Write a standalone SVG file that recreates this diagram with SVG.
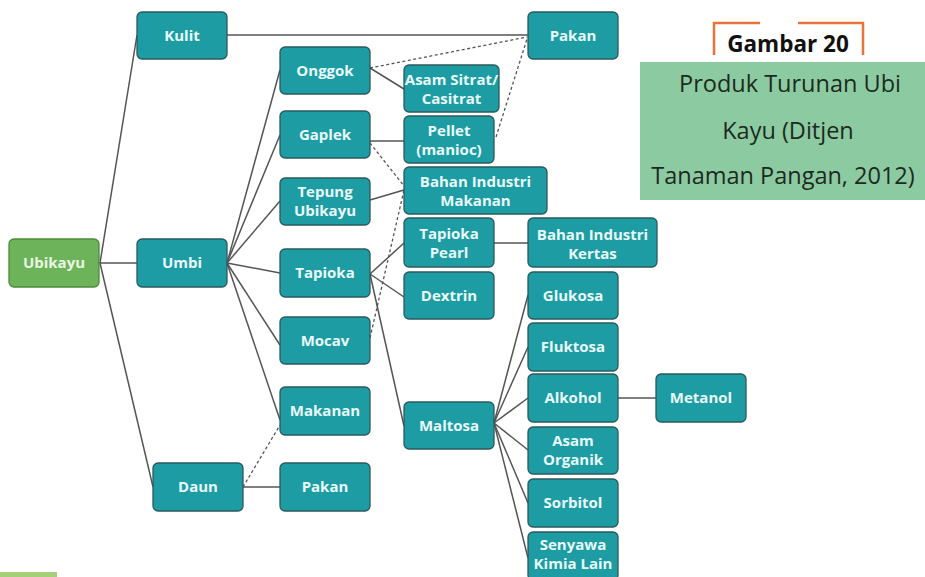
<svg xmlns="http://www.w3.org/2000/svg" width="925" height="577" viewBox="0 0 925 577">
<style>
.n rect{fill:#1d9ca3;stroke:#2a5a5e;stroke-width:1.3}
.n text{fill:#e8fafa;font-family:"Open Sans","Noto Sans",sans-serif;font-weight:700;font-size:15px;text-anchor:middle}
.g rect{fill:#6db35a;stroke:#4c8a3c}
.g text{fill:#eaf6e2}
.c line{stroke:#555;stroke-width:1.5;fill:none}
.c line.d{stroke-dasharray:3 2.5;stroke-width:1.3}
.t{font-family:"Open Sans","Noto Sans",sans-serif;text-anchor:middle}
</style>
<rect width="925" height="577" fill="#ffffff"/>
<g id="connectors" class="c">
<line x1="100" y1="263" x2="137" y2="35"/>
<line x1="99" y1="263" x2="137" y2="263"/>
<line x1="100" y1="263" x2="153" y2="487"/>
<line x1="227" y1="35" x2="528" y2="35"/>
<line x1="227" y1="263" x2="280" y2="70"/>
<line x1="227" y1="263" x2="280" y2="135"/>
<line x1="227" y1="263" x2="280" y2="201"/>
<line x1="227" y1="263" x2="280" y2="273"/>
<line x1="227" y1="263" x2="280" y2="345"/>
<line x1="227" y1="263" x2="280" y2="420"/>
<line x1="370" y1="68" x2="404" y2="89"/>
<line class="d" x1="370" y1="68" x2="527" y2="37"/>
<line class="d" x1="496" y1="137" x2="527" y2="39"/>
<line x1="370" y1="141" x2="404" y2="141"/>
<line class="d" x1="370" y1="143" x2="404" y2="186"/>
<line x1="370" y1="200" x2="404" y2="190"/>
<line class="d" x1="370" y1="338" x2="404" y2="190"/>
<line x1="370" y1="274" x2="404" y2="243"/>
<line x1="370" y1="274" x2="404" y2="297"/>
<line x1="370" y1="274" x2="404" y2="426"/>
<line x1="494" y1="243" x2="528" y2="243"/>
<line x1="494" y1="423" x2="528" y2="295"/>
<line x1="494" y1="423" x2="528" y2="347"/>
<line x1="494" y1="423" x2="528" y2="398"/>
<line x1="494" y1="423" x2="528" y2="450"/>
<line x1="494" y1="423" x2="528" y2="503"/>
<line x1="494" y1="423" x2="528" y2="558"/>
<line x1="618" y1="398" x2="656" y2="398"/>
<line x1="243" y1="487" x2="280" y2="487"/>
<line class="d" x1="243" y1="487" x2="280" y2="425"/>
</g>
<g id="ubikayu" class="n g"><rect x="9" y="239" width="90" height="48" rx="5"/><text x="54" y="268">Ubikayu</text></g>
<g id="kulit" class="n"><rect x="137" y="12" width="90" height="47" rx="5"/><text x="182" y="41">Kulit</text></g>
<g id="umbi" class="n"><rect x="137" y="239" width="90" height="48" rx="5"/><text x="182" y="268">Umbi</text></g>
<g id="daun" class="n"><rect x="153" y="463" width="90" height="48" rx="5"/><text x="198" y="492">Daun</text></g>
<g id="onggok" class="n"><rect x="280" y="47" width="90" height="47" rx="5"/><text x="325" y="76">Onggok</text></g>
<g id="gaplek" class="n"><rect x="280" y="111" width="90" height="47" rx="5"/><text x="325" y="140">Gaplek</text></g>
<g id="tepung" class="n"><rect x="280" y="178" width="90" height="47" rx="5"/><text x="325" y="197">Tepung</text><text x="325" y="216">Ubikayu</text></g>
<g id="tapioka" class="n"><rect x="280" y="249" width="90" height="48" rx="5"/><text x="325" y="278">Tapioka</text></g>
<g id="mocav" class="n"><rect x="280" y="317" width="90" height="47" rx="5"/><text x="325" y="346">Mocav</text></g>
<g id="makanan" class="n"><rect x="280" y="387" width="90" height="48" rx="5"/><text x="325" y="416">Makanan</text></g>
<g id="pakan2" class="n"><rect x="280" y="463" width="90" height="48" rx="5"/><text x="325" y="492">Pakan</text></g>
<g id="pakan1" class="n"><rect x="528" y="12" width="90" height="47" rx="5"/><text x="573" y="41">Pakan</text></g>
<g id="asamsitrat" class="n"><rect x="404" y="65" width="95" height="47" rx="5"/><text x="451.5" y="84.5">Asam Sitrat/</text><text x="451.5" y="104">Casitrat</text></g>
<g id="pellet" class="n"><rect x="404" y="116" width="90" height="47" rx="5"/><text x="449" y="136">Pellet</text><text x="449" y="155">(manioc)</text></g>
<g id="bim" class="n"><rect x="404" y="167" width="143" height="47" rx="5"/><text x="475.5" y="186.5">Bahan Industri</text><text x="475.5" y="205.5">Makanan</text></g>
<g id="tapiokapearl" class="n"><rect x="404" y="218" width="90" height="49" rx="5"/><text x="449" y="239">Tapioka</text><text x="449" y="258">Pearl</text></g>
<g id="bik" class="n"><rect x="528" y="218" width="129" height="49" rx="5"/><text x="592.5" y="239.5">Bahan Industri</text><text x="592.5" y="258.5">Kertas</text></g>
<g id="dextrin" class="n"><rect x="404" y="272" width="90" height="47" rx="5"/><text x="449" y="301">Dextrin</text></g>
<g id="maltosa" class="n"><rect x="404" y="402" width="90" height="47" rx="5"/><text x="449" y="431">Maltosa</text></g>
<g id="glukosa" class="n"><rect x="528" y="272" width="90" height="47" rx="5"/><text x="573" y="301">Glukosa</text></g>
<g id="fluktosa" class="n"><rect x="528" y="323" width="90" height="48" rx="5"/><text x="573" y="352">Fluktosa</text></g>
<g id="alkohol" class="n"><rect x="528" y="374" width="90" height="48" rx="5"/><text x="573" y="403">Alkohol</text></g>
<g id="metanol" class="n"><rect x="656" y="374" width="90" height="48" rx="5"/><text x="701" y="403">Metanol</text></g>
<g id="asamorganik" class="n"><rect x="528" y="427" width="90" height="47" rx="5"/><text x="573" y="446">Asam</text><text x="573" y="465">Organik</text></g>
<g id="sorbitol" class="n"><rect x="528" y="479" width="90" height="48" rx="5"/><text x="573" y="508">Sorbitol</text></g>
<g id="senyawa" class="n"><rect x="528" y="532" width="90" height="48" rx="5"/><text x="573" y="550">Senyawa</text><text x="573" y="569">Kimia Lain</text></g>
<g id="title">
<path d="M714 55 V23 H760 M798 23 H863 V55" fill="none" stroke="#e8743b" stroke-width="2.5"/>
<text class="t" x="788" y="52" font-size="22.5" font-weight="700" fill="#111">Gambar 20</text>
<rect x="640" y="62" width="285" height="138" fill="#8ccaa2"/>
<text class="t" x="790" y="92" font-size="23.5" fill="#1c2a1e">Produk Turunan Ubi</text>
<text class="t" x="788" y="139" font-size="23.5" fill="#1c2a1e">Kayu (Ditjen</text>
<text class="t" x="783" y="184" font-size="23.5" fill="#1c2a1e">Tanaman Pangan, 2012)</text>
</g>
<rect x="0" y="572" width="57" height="5" fill="#a6cf7a"/>
</svg>
